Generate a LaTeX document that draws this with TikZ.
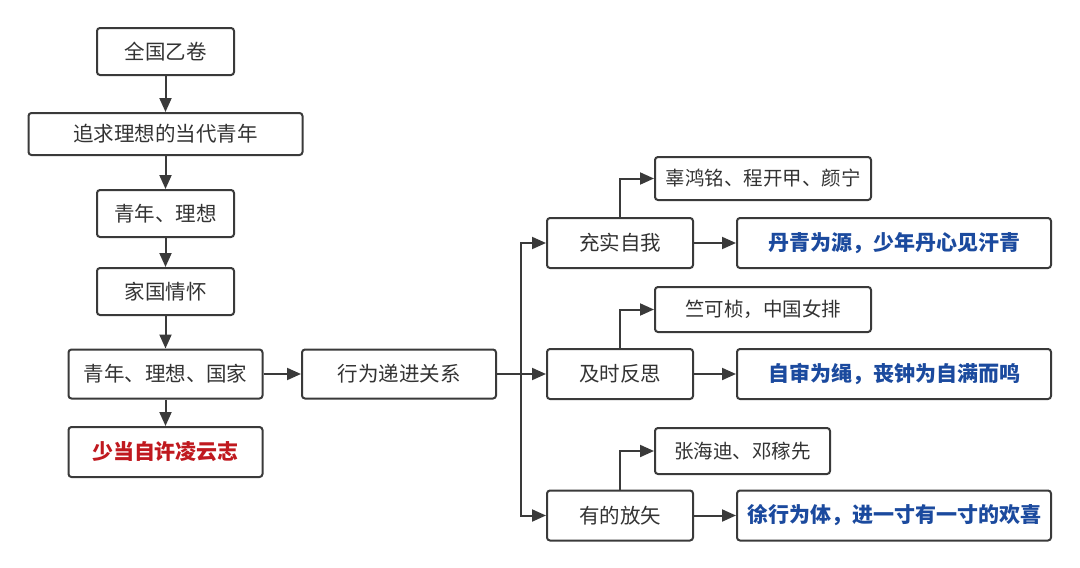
\documentclass[tikz,border=0pt]{standalone}
\usepackage{fontspec}
\setmainfont{Noto Sans CJK SC}
\usetikzlibrary{arrows.meta}

\definecolor{boxline}{HTML}{3A3A3A}
\definecolor{txtgray}{HTML}{333333}
\definecolor{redtxt}{HTML}{C0191F}
\definecolor{bluetxt}{HTML}{1B4A9E}

\begin{document}
\begin{tikzpicture}[x=1pt,y=-1pt,
	box/.style={draw=boxline,line width=2pt,rounded corners=3pt,fill=white,
		text=txtgray,inner sep=0pt,font=\fontsize{20.5}{24}\selectfont},
	smallbox/.style={box,font=\fontsize{19.5}{23}\selectfont},
	keybox/.style={box,font=\fontsize{21}{25}\selectfont\bfseries},
	arr/.style={-{Triangle[length=14pt,width=12pt]},draw=boxline,line width=2pt}]
	\useasboundingbox (0,0) rectangle (1080,568);
	
	%left column
	\node[box,minimum width=137,minimum height=47] (quanguo) at (165.5,51.5)  {全国乙卷};
	\node[box,minimum width=274,minimum height=42] (zhuiqiu) at (165.5,134)   {追求理想的当代青年};
	\node[box,minimum width=137,minimum height=47] (qnlx)    at (165.5,213.5) {青年、理想};
	\node[box,minimum width=137,minimum height=47] (jiaguo)  at (165.5,291.5) {家国情怀};
	\node[box,minimum width=194,minimum height=49] (qnlxgj)  at (165.5,374)   {青年、理想、国家};
	\node[keybox,text=redtxt,minimum width=194,minimum height=50] (lingyun) at (165.5,452) {少当自许凌云志};
	\node[box,minimum width=194,minimum height=49] (dijin)   at (399,374)     {行为递进关系};
	
	%three acts
	\node[box,minimum width=146,minimum height=50] (chongshi) at (620,243)   {充实自我};
	\node[box,minimum width=146,minimum height=50] (fansi)    at (620,374)   {及时反思};
	\node[box,minimum width=146,minimum height=50] (fangshi)  at (620,515.5) {有的放矢};
	
	%people
	\node[smallbox,minimum width=216,minimum height=43] (renwu1) at (763,178.5) {辜鸿铭、程开甲、颜宁};
	\node[smallbox,minimum width=216,minimum height=45] (renwu2) at (763,309.5) {竺可桢，中国女排};
	\node[smallbox,minimum width=175,minimum height=46] (renwu3) at (742.5,451) {张海迪、邓稼先};
	
	%sayings
	\node[keybox,text=bluetxt,minimum width=314,minimum height=50] (danqing) at (894,243)   {丹青为源，少年丹心见汗青};
	\node[keybox,text=bluetxt,minimum width=314,minimum height=50] (zishen)  at (894,374)   {自审为绳，丧钟为自满而鸣};
	\node[keybox,text=bluetxt,minimum width=314,minimum height=50] (xuxing)  at (894,515.5) {徐行为体，进一寸有一寸的欢喜};
	
	%arrows
	\draw[arr] (quanguo) -- (zhuiqiu);
	\draw[arr] (zhuiqiu) -- (qnlx);
	\draw[arr] (qnlx) -- (jiaguo);
	\draw[arr] (jiaguo) -- (qnlxgj);
	\draw[arr] (qnlxgj) -- (lingyun);
	\draw[arr] (qnlxgj) -- (dijin);
	\draw[line width=2pt,draw=boxline] (dijin.east) -- ++(24,0) coordinate (fork);
	\draw[arr] (fork) |- (chongshi);
	\draw[arr] (fork) -- (fansi);
	\draw[arr] (fork) |- (fangshi);
	\draw[arr] (chongshi.north) |- (renwu1);
	\draw[arr] (fansi.north) |- (renwu2);
	\draw[arr] (fangshi.north) |- (renwu3);
	\draw[arr] (chongshi) -- (danqing);
	\draw[arr] (fansi) -- (zishen);
	\draw[arr] (fangshi) -- (xuxing);
\end{tikzpicture}
\end{document}
